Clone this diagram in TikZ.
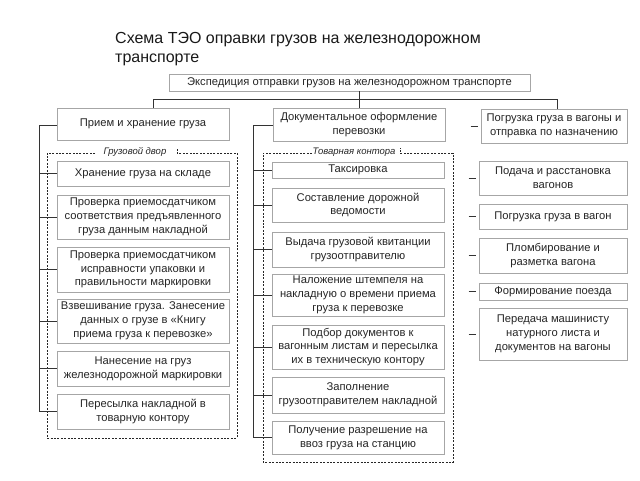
\documentclass[tikz,border=0pt]{standalone}
\usepackage{fontspec}
\setmainfont{Liberation Sans}
\usetikzlibrary{shadows}
\begin{document}
\begin{tikzpicture}[x=1pt,y=-1pt,
  box/.style={draw=gray!70, fill=white, line width=0.6pt, align=center,
    font=\fontsize{11.2}{13.8}\selectfont, text=black!85, inner sep=1pt,
    drop shadow={shadow xshift=1.4pt, shadow yshift=-1.4pt, fill=black!65, opacity=1}},
  conn/.style={draw=black!80, line width=0.5pt},
  cont/.style={draw=black!85, line width=0.9pt, dash pattern=on 2pt off 1.4pt},
  lab/.style={font=\itshape\fontsize{9.5}{11}\selectfont, text=black!85, inner sep=1pt},
]
\useasboundingbox (0,0) rectangle (640,480);

% title
\node[anchor=north west, inner sep=0pt, align=left, text=black!90,
      font=\fontsize{16}{19.5}\selectfont] (title) at (115,32)
  {Схема ТЭО оправки грузов на железнодорожном\\транспорте};

% dashed containers
\draw[cont] (95,153) -- (47,153) -- (47,438) -- (237,438) -- (237,153) -- (177,153) -- (177,148);
\node[lab] (lg) at (135,152) {Грузовой двор};
\draw[cont] (312,153) -- (263,153) -- (263,462) -- (453,462) -- (453,153) -- (400,153) -- (400,148);
\node[lab] (lt) at (354,152) {Товарная контора};

% top
\node[box, minimum width=361pt, minimum height=17pt] (top) at (349.5,82.5)
  {Экспедиция отправки грузов на железнодорожном транспорте};

% level 2
\node[box, minimum width=172pt, minimum height=32pt] (A) at (143,124)
  {Прием и хранение груза};
\node[box, minimum width=172pt, minimum height=33pt] (B) at (359,124.5)
  {Документальное оформление\\перевозки};
\node[box, minimum width=146pt, minimum height=34pt] (C) at (554,126)
  {Погрузка груза в вагоны и\\отправка по назначению};

% left column
\node[box, minimum width=172pt, minimum height=25pt] (L1) at (143,173.5) {Хранение груза на складе};
\node[box, minimum width=172pt, minimum height=44pt] (L2) at (143,217)
  {Проверка приемосдатчиком\\соответствия предъявленного\\груза данным накладной};
\node[box, minimum width=172pt, minimum height=45pt] (L3) at (143,269.5)
  {Проверка приемосдатчиком\\исправности упаковки и\\правильности маркировки};
\node[box, minimum width=172pt, minimum height=44pt] (L4) at (143,321)
  {Взвешивание груза. Занесение\\данных о грузе в «Книгу\\приема груза к перевозке»};
\node[box, minimum width=172pt, minimum height=35pt] (L5) at (143,368.5)
  {Нанесение на груз\\железнодорожной маркировки};
\node[box, minimum width=172pt, minimum height=35pt] (L6) at (143,411.5)
  {Пересылка накладной в\\товарную контору};

% middle column
\node[box, minimum width=172pt, minimum height=16pt] (M1) at (358,170) {Таксировка};
\node[box, minimum width=172pt, minimum height=34pt] (M2) at (358,205)
  {Составление дорожной\\ведомости};
\node[box, minimum width=172pt, minimum height=35pt] (M3) at (358,249.5)
  {Выдача грузовой квитанции\\грузоотправителю};
\node[box, minimum width=172pt, minimum height=42pt] (M4) at (358,295)
  {Наложение штемпеля на\\накладную о времени приема\\груза к перевозке};
\node[box, minimum width=172pt, minimum height=44pt] (M5) at (358,347)
  {Подбор документов к\\вагонным листам и пересылка\\их в техническую контору};
\node[box, minimum width=172pt, minimum height=36pt] (M6) at (358,395)
  {Заполнение\\грузоотправителем накладной};
\node[box, minimum width=172pt, minimum height=33pt] (M7) at (358,437.5)
  {Получение разрешение на\\ввоз груза на станцию};

% right column
\node[box, minimum width=148pt, minimum height=34pt] (R1) at (553,178) {Подача и расстановка\\вагонов};
\node[box, minimum width=148pt, minimum height=25pt] (R2) at (553,216.5) {Погрузка груза в вагон};
\node[box, minimum width=148pt, minimum height=35pt] (R3) at (553,255.5) {Пломбирование и\\разметка вагона};
\node[box, minimum width=148pt, minimum height=17pt] (R4) at (553,291.5) {Формирование поезда};
\node[box, minimum width=148pt, minimum height=52pt] (R5) at (553,334)
  {Передача машинисту\\натурного листа и\\документов на вагоны};

% tree connectors
\coordinate (hl) at (153,99);
\coordinate (hr) at (557,99);
\draw[conn] (hl) -- (hr);
\draw[conn] (top.south -| B.north) -- (B.north);
\draw[conn] (hl) -- (hl |- A.north);
\draw[conn] (hr) -- (hr |- C.north);

% left column bus
\coordinate (lb) at (39,125);
\draw[conn] (lb) -- (lb |- L6.west);
\draw[conn] (lb) -- (A.west |- lb);
\foreach \n in {L1,L2,L3,L4,L5,L6} \draw[conn] (lb |- \n.west) -- (\n.west);

% middle column bus
\coordinate (mb) at (253,125);
\draw[conn] (mb) -- (mb |- M7.west);
\draw[conn] (mb) -- (B.west |- mb);
\foreach \n in {M1,M2,M3,M4,M5,M6,M7} \draw[conn] (mb |- \n.west) -- (\n.west);

% right column ticks
\foreach \n in {C,R1,R2,R3,R4,R5} \draw[conn] ([xshift=-10pt]\n.west) -- ([xshift=-3pt]\n.west);
\end{tikzpicture}
\end{document}
